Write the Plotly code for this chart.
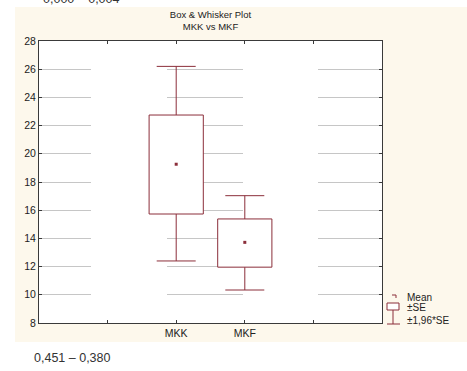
import plotly.graph_objects as go

# ---- data ----
categories = ["MKK", "MKF"]
means = [19.26, 13.72]
se_low = [15.73, 11.96]       # mean - SE
se_high = [22.75, 15.38]      # mean + SE
ci_low = [12.40, 10.34]       # mean - 1.96*SE
ci_high = [26.20, 17.03]      # mean + 1.96*SE
x_ticks = [1, 2, 3, 4]
x_ticktext = ["", "MKK", "MKF", ""]
y_ticks = [8, 10, 12, 14, 16, 18, 20, 22, 24, 26, 28]

W, H = 467, 371
ML, MR, MT, MB = 39, 85, 41, 48
PW = W - ML - MR
PH = H - MT - MB
MAROON = "#8b2e3a"
FONT = "Liberation Sans, Arial, sans-serif"
BOX_HALF = 0.395


def px(x):
    return (x - ML) / PW


def py(y):
    return (H - MB - y) / PH


xpos = [categories.index(c) + 2 for c in categories]

fig = go.Figure()

# whiskers: mean -> +/-1.96*SE, caps only at the ends
fig.add_trace(go.Scatter(
    x=xpos, y=means, mode="markers",
    marker=dict(size=1, color="rgba(0,0,0,0)"),
    error_y=dict(type="data", symmetric=False,
                 array=[h - m for h, m in zip(ci_high, means)],
                 arrayminus=[m - l for m, l in zip(means, ci_low)],
                 width=19.5, thickness=1, color=MAROON),
    showlegend=False, hoverinfo="skip",
))

# boxes: mean +/- SE, white filled, drawn over whisker stems
bx, by = [], []
for x, lo, hi in zip(xpos, se_low, se_high):
    bx += [x - BOX_HALF, x + BOX_HALF, x + BOX_HALF, x - BOX_HALF, x - BOX_HALF, None]
    by += [lo, lo, hi, hi, lo, None]
fig.add_trace(go.Scatter(
    x=bx, y=by, mode="lines", fill="toself", fillcolor="white",
    line=dict(color=MAROON, width=1), showlegend=False, hoverinfo="skip",
))

# mean markers
fig.add_trace(go.Scatter(
    x=xpos, y=means, mode="markers",
    marker=dict(symbol="square", size=3, color=MAROON),
    showlegend=False, hoverinfo="skip",
))

shapes = [
    # cream background panel
    dict(type="rect", xref="paper", yref="paper", x0=px(15), x1=px(470),
         y0=py(342), y1=py(7), fillcolor="#fdf8ec", line=dict(width=0), layer="below"),
    # white plot area
    dict(type="rect", xref="paper", yref="paper", x0=0, x1=1, y0=0, y1=1,
         fillcolor="white", line=dict(width=0), layer="below"),
    # legend: mean marker
    dict(type="path", xref="paper", yref="paper",
         path=f"M {px(392)},{py(295)} L {px(396)},{py(295)} L {px(396)},{py(298)}",
         line=dict(color=MAROON, width=1)),
    # legend: SE box
    dict(type="rect", xref="paper", yref="paper", x0=px(387), x1=px(399),
         y0=py(310), y1=py(303), line=dict(color=MAROON, width=1), fillcolor="white"),
    # legend: whisker stem and cap
    dict(type="line", xref="paper", yref="paper", x0=px(393), x1=px(393),
         y0=py(310), y1=py(324), line=dict(color=MAROON, width=1)),
    dict(type="line", xref="paper", yref="paper", x0=px(387), x1=px(400),
         y0=py(324), y1=py(324), line=dict(color=MAROON, width=1)),
]

annotations = [
    dict(text="0,000 – 0,004", xref="paper", yref="paper", x=px(41), y=py(-1),
         xanchor="left", yanchor="middle", showarrow=False,
         font=dict(family=FONT, size=12.5, color="#333")),
    dict(text="0,451 – 0,380", xref="paper", yref="paper", x=px(32), y=py(358),
         xanchor="left", yanchor="middle", showarrow=False,
         font=dict(family=FONT, size=12.5, color="#333")),
    dict(text="Mean", xref="paper", yref="paper", x=px(405), y=py(297),
         xanchor="left", yanchor="middle", showarrow=False,
         font=dict(family=FONT, size=10, color="#222")),
    dict(text="±SE", xref="paper", yref="paper", x=px(405), y=py(307),
         xanchor="left", yanchor="middle", showarrow=False,
         font=dict(family=FONT, size=10, color="#222")),
    dict(text="±1,96*SE", xref="paper", yref="paper", x=px(405), y=py(320),
         xanchor="left", yanchor="middle", showarrow=False,
         font=dict(family=FONT, size=10, color="#222")),
]

axis_common = dict(
    showline=True, linecolor="#3a3a3a", linewidth=1, mirror="ticks",
    ticks="inside", ticklen=3, tickcolor="#3a3a3a", zeroline=False,
    tickfont=dict(family=FONT, size=10.5, color="#222"),
)

fig.update_layout(
    width=W, height=H,
    margin=dict(l=ML, r=MR, t=MT, b=MB),
    paper_bgcolor="white", plot_bgcolor="white",
    title=dict(text="Box & Whisker Plot<br>MKK vs MKF", x=0.5, xref="paper",
               xanchor="center", y=1 - 18 / H, yanchor="middle",
               font=dict(family=FONT, size=9.5, color="#222")),
    xaxis=dict(range=[0, 5], tickvals=x_ticks, ticktext=x_ticktext,
               showgrid=False, **axis_common),
    yaxis=dict(range=[8, 28], tickvals=y_ticks, showgrid=True,
               gridcolor="#c6c6c6", gridwidth=1,
               griddash="52px,76px,76px,75px,90px", **axis_common),
    shapes=shapes, annotations=annotations,
)

fig.write_html("out.html", config={"displayModeBar": False},
               post_script="document.body.style.margin='0';")
